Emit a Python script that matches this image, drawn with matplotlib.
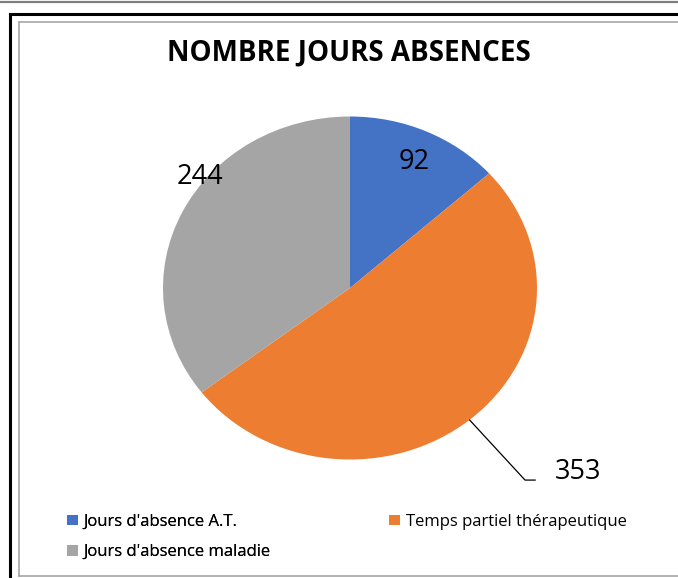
import matplotlib
matplotlib.use("Agg")
import matplotlib.pyplot as plt
from matplotlib.lines import Line2D

categories = ["Jours d'absence A.T.", "Temps partiel thérapeutique", "Jours d'absence maladie"]
values = [92, 353, 244]
colors = ["#4472C4", "#ED7D31", "#A5A5A5"]
title = "NOMBRE JOURS ABSENCES"

plt.rcParams["font.family"] = ["Open Sans", "DejaVu Sans"]

W, H = 678, 578
fig = plt.figure(figsize=(W / 100, H / 100), dpi=100)


def fx(px):
    return px / W


def fy(py):
    return 1 - py / H


# frames (outer gray, black border, inner chart-area border)
fig.add_artist(Line2D([0, 1], [fy(1.5), fy(1.5)], color="#7f7f7f", lw=1.6))
fig.add_artist(Line2D([fx(9.5), 1.01], [fy(13.5), fy(13.5)], color="black", lw=2.2))
fig.add_artist(Line2D([fx(9.5), fx(9.5)], [fy(13.5), -0.01], color="black", lw=2.2))
fig.add_artist(Line2D([fx(18.5), 1.01], [fy(21.5), fy(21.5)], color="#a6a6a6", lw=1.2))
fig.add_artist(Line2D([fx(18.5), fx(18.5)], [fy(21.5), fy(575.5)], color="#a6a6a6", lw=1.2))
fig.add_artist(Line2D([fx(18.5), 1.01], [fy(575.5), fy(575.5)], color="#a6a6a6", lw=1.2))

fig.text(fx(349), fy(53), title, ha="center", va="center",
         fontsize=20, fontweight="bold")

# pie area
cx, cy, rx, ry = 350, 288, 187, 171.5
ax = fig.add_axes([fx(cx - rx), fy(cy + ry), 2 * rx / W, 2 * ry / H])
wedges, _ = ax.pie(values, colors=colors, startangle=90, counterclock=False,
                   wedgeprops=dict(linewidth=0))
ax.set_aspect("auto")
ax.set_xlim(-1, 1)
ax.set_ylim(-1, 1)
ax.axis("off")

ax.text(0.345, 0.735, str(values[0]), ha="center", va="center", fontsize=19.5)
ax.text(-0.804, 0.645, str(values[2]), ha="center", va="center", fontsize=19.5)
ax.plot([0.64, 0.936, 0.99], [-0.77, -1.12, -1.12], color="black", lw=0.9,
        clip_on=False)
ax.text(1.22, -1.07, str(values[1]), ha="center", va="center", fontsize=19.5,
        clip_on=False)

leg_kw = dict(loc="upper left", frameon=False, fontsize=12,
              handlelength=0.65, handleheight=0.6, handletextpad=0.35,
              labelspacing=0.85, borderpad=0, borderaxespad=0)
leg1 = fig.legend([wedges[0], wedges[2]], [categories[0], categories[2]],
                  bbox_to_anchor=(fx(67), fy(514)), **leg_kw)
fig.add_artist(leg1)
fig.legend([wedges[1]], [categories[1]],
           bbox_to_anchor=(fx(389), fy(514)), **leg_kw)

fig.savefig("out.png", dpi=100)
